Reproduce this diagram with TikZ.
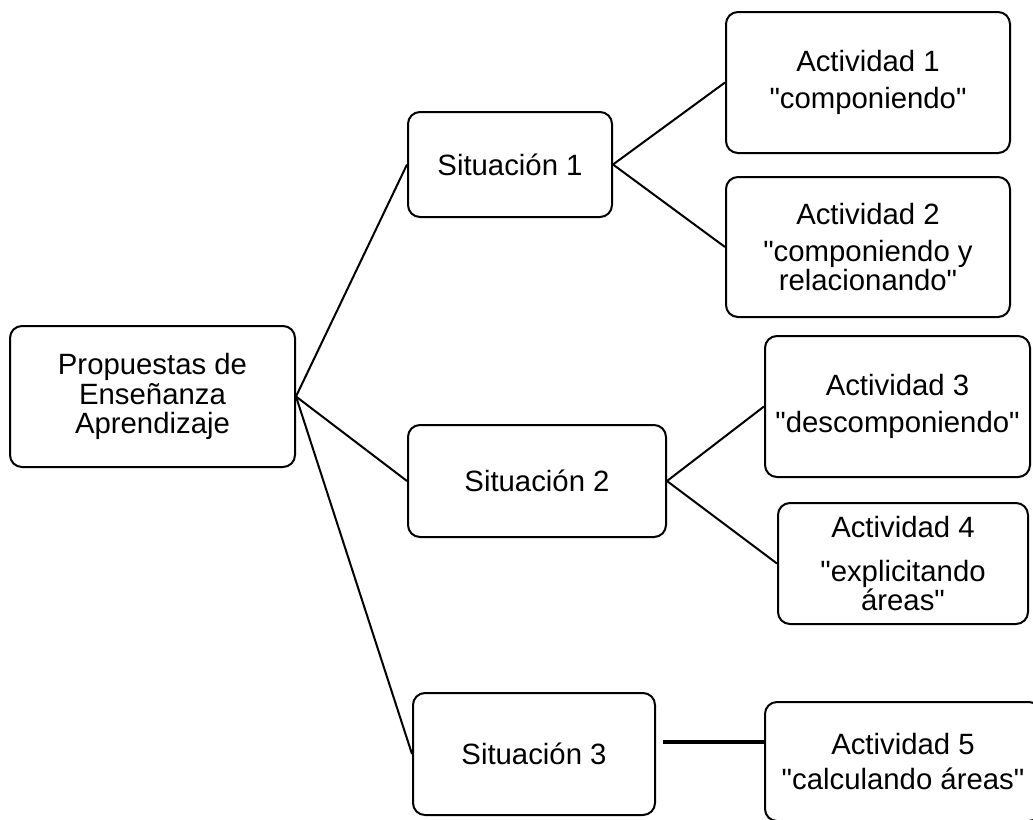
\documentclass[tikz,border=0pt]{standalone}
\usepackage{fontspec}
\setmainfont{Liberation Sans}
\begin{document}
\begin{tikzpicture}[x=0.75pt,y=-0.75pt,
box/.style={draw=black,line width=1.5pt,rounded corners=9pt,inner sep=0pt,align=center,
  font=\fontsize{22}{22}\selectfont},
link/.style={line width=1.5pt},
heavy/.style={line width=3pt}]
\path[use as bounding box,clip] (0,0) rectangle (1033,819);
% left column
\node[box,minimum width=213.75pt,minimum height=105.75pt] (prop) at (152.5,396.5)
{Propuestas de\\Enseñanza\\Aprendizaje};
% situations
\node[box,minimum width=153pt,minimum height=78.75pt] (sit1) at (510,164.5) {Situación 1};
\node[box,minimum width=193.5pt,minimum height=84pt] (sit2) at (537,481) {Situación 2};
\node[box,minimum width=181.5pt,minimum height=91.5pt] (sit3) at (534,754) {Situación 3};
% activities
\node[box,minimum width=213pt,minimum height=105.75pt] (act1) at (868,82.5)
{Actividad 1\\[6pt]\textquotedbl componiendo\textquotedbl};
\node[box,minimum width=213pt,minimum height=105pt] (act2) at (868,247)
{Actividad 2\\[6pt]\textquotedbl componiendo y\\relacionando\textquotedbl};
\node[box,minimum width=198.75pt,minimum height=105.75pt] (act3) at (897.5,406.5)
{Actividad 3\\[6pt]\textquotedbl descomponiendo\textquotedbl};
\node[box,minimum width=187.5pt,minimum height=90.75pt] (act4) at (903,563.5)
{Actividad 4\\[11pt]\textquotedbl explicitando\\áreas\textquotedbl};
\node[box,minimum width=207pt,minimum height=89.25pt] (act5) at (903,761.5)
{Actividad 5\\[4pt]\textquotedbl calculando áreas\textquotedbl};
\coordinate (s3out) at (663,742);
% connectors
\draw[link] (prop.east)--(sit1.west);
\draw[link] (prop.east)--(sit2.west);
\draw[link] (prop.east)--(sit3.west);
\draw[link] (sit1.east)--(act1.west);
\draw[link] (sit1.east)--(act2.west);
\draw[link] (sit2.east)--(act3.west);
\draw[link] (sit2.east)--(act4.west);
\draw[heavy] (s3out)--(s3out -| act5.west);
\end{tikzpicture}
\end{document}
